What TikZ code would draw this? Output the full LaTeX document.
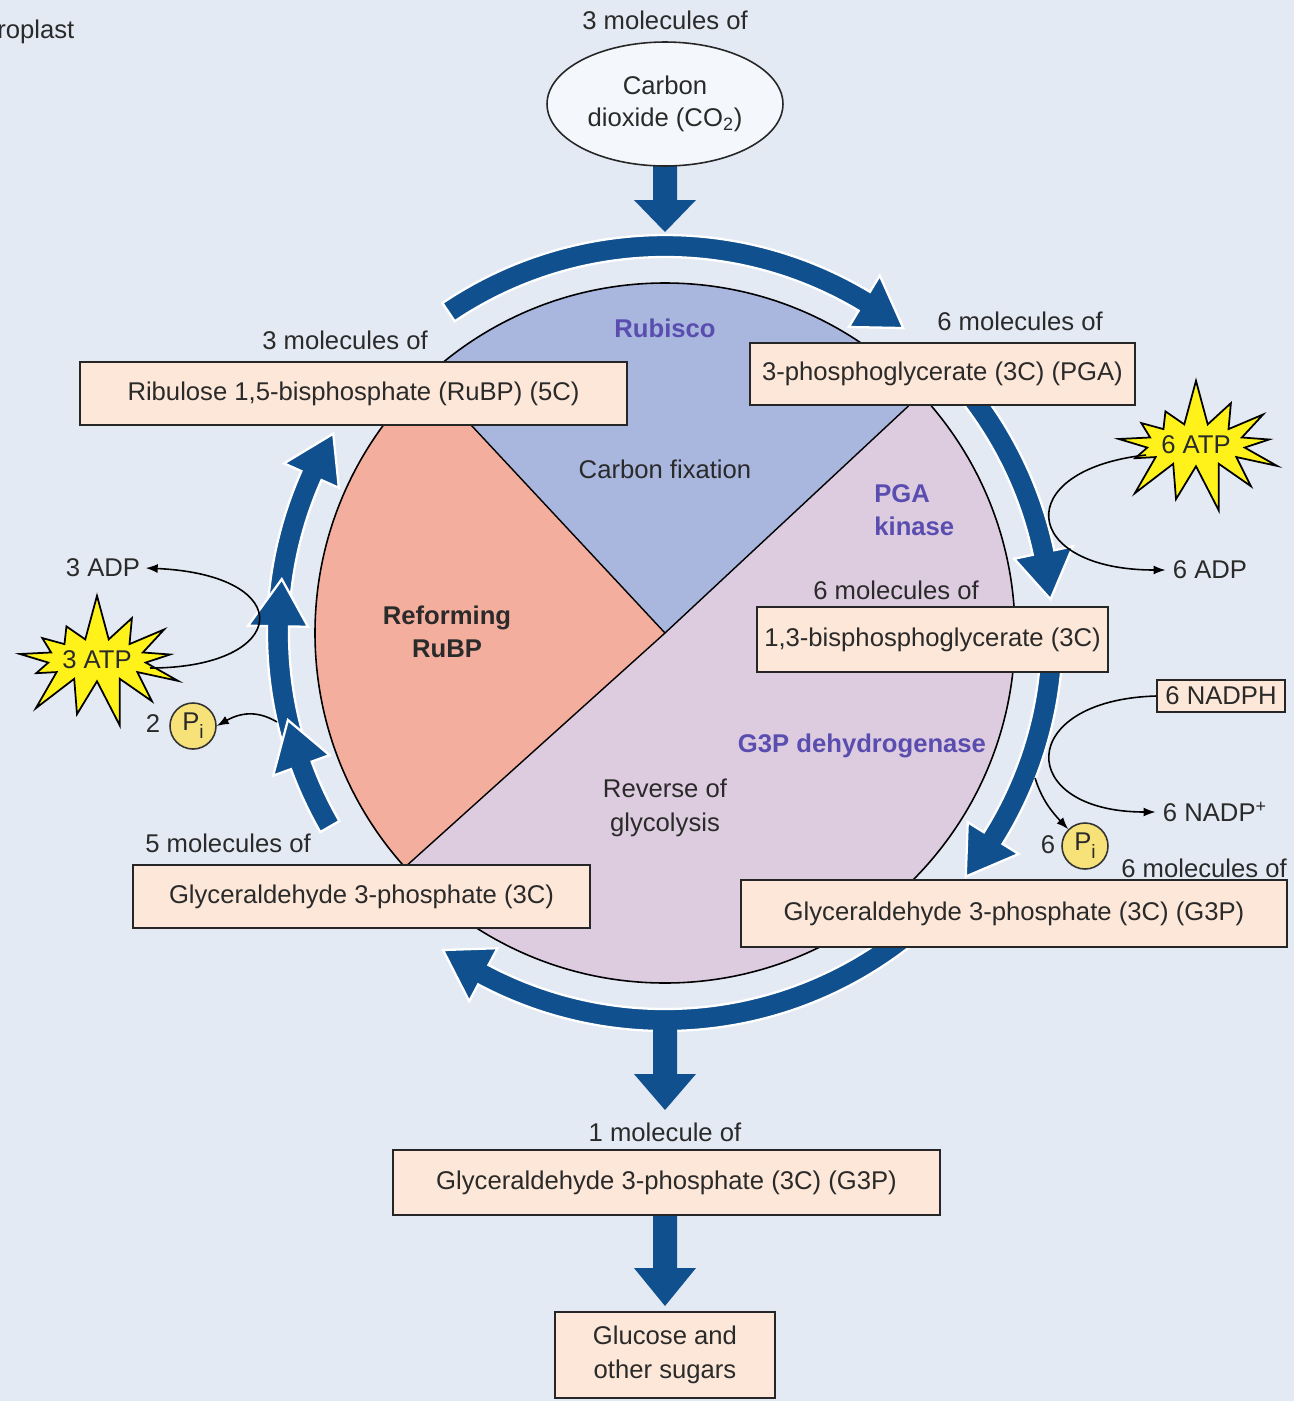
\documentclass[tikz,border=0pt]{standalone}
\usepackage{fontspec}
\setmainfont{Liberation Sans}
\usetikzlibrary{shapes.geometric,shapes.symbols,arrows.meta,calc}
\definecolor{bg}{HTML}{E4EAF4}
\definecolor{rubblue}{HTML}{A9B6DE}
\definecolor{salmon}{HTML}{F4AE9E}
\definecolor{mauve}{HTML}{DDCCDF}
\definecolor{boxfill}{HTML}{FDE7D8}
\definecolor{arrowblue}{HTML}{10508E}
\definecolor{enz}{HTML}{5A4DB0}
\definecolor{ink}{HTML}{2A2A2A}
\definecolor{starfill}{HTML}{FFF21A}
\definecolor{pifill}{HTML}{F7E27A}
\newcommand{\cyc}[3]{\fill[arrowblue, draw=white, line width=1.3pt, line join=miter]
  (#1:398) arc[start angle=#1, end angle=#2, radius=398] -- (#2:417) -- (#3:387) -- (#2:357) -- (#2:376)
  arc[start angle=#2, end angle=#1, radius=376] -- cycle;}
\newcommand{\vstem}[3]{\fill[arrowblue] (653,#1) -- (653,#2) -- (634,#2) -- (665,#3) -- (696,#2) -- (677,#2) -- (677,#1) -- cycle;}
\newcommand{\pisym}{P\raisebox{-0.6ex}{\fontsize{11}{11}\selectfont i}}
\begin{document}
\begin{tikzpicture}[x=0.02cm,y=-0.02cm,
  every node/.style={font=\fontsize{14.6}{17}\selectfont, text=ink},
  box/.style={draw=black!85, fill=boxfill, line width=0.9pt, inner sep=0pt},
  lbl/.style={inner sep=0pt},
  enzlbl/.style={font=\fontsize{14.6}{17}\selectfont\bfseries, text=enz, inner sep=0pt},
  star/.style={starburst, starburst points=13, starburst point height=0.95cm, random starburst=7,
     fill=starfill, draw=black, line width=1pt, inner sep=0pt, minimum width=3.5cm, minimum height=2.75cm},
  pi/.style={circle, fill=pifill, draw=black!80, line width=0.9pt, minimum size=0.92cm, inner sep=0pt},
  thin/.style={draw=black, line width=0.9pt, -{Latex[length=2.4mm,width=1.8mm]}}]
\useasboundingbox (0,0) rectangle (1294,1401);
\fill[bg] (0,0) rectangle (1294,1401);

% cycle disk
\begin{scope}[shift={(665,633)}]
  \fill[rubblue] (0,0) -- (-133:350) arc[start angle=-133, end angle=-43, radius=350] -- cycle;
  \fill[mauve] (0,0) -- (-43:350) arc[start angle=-43, end angle=138, radius=350] -- cycle;
  \fill[salmon] (0,0) -- (138:350) arc[start angle=138, end angle=227, radius=350] -- cycle;
  \draw[line width=0.8pt] (-133:350) -- (0,0) -- (-43:350);
  \draw[line width=0.8pt] (0,0) -- (138:350);
  \draw[line width=0.9pt] (0,0) circle[radius=350];
  % cycle arrows
  \cyc{-124}{-59}{-52}
  \cyc{-40}{-12}{-5}
  \cyc{3}{32}{39}
  \cyc{50}{118}{125}
  \cyc{184}{204}{211}
  \cyc{163}{181}{188}
  \cyc{150}{160}{167}
\end{scope}

% vertical arrows
\vstem{160}{200}{232}
\vstem{1025}{1074}{1110}
\vstem{1210}{1268}{1306}

% top-left fragment
\node[lbl, anchor=west] (chl) at (-3,32) {roplast};

% CO2
\node[lbl] (top3) at (665,20) {3 molecules of};
\node[ellipse, draw=black!85, fill=white!60!bg, line width=0.9pt, minimum width=4.72cm, minimum height=2.48cm, align=center, inner sep=0pt] (co2) at (665,104) {Carbon\\[1pt]dioxide (CO\textsubscript{2})};

% boxes
\node[box, minimum width=10.94cm, minimum height=1.26cm] (rubp) at (353.5,393.5) {Ribulose 1,5-bisphosphate (RuBP) (5C)};
\node[lbl] (rubpl) at (345,340) {3 molecules of};
\node[box, minimum width=7.7cm, minimum height=1.24cm] (pga) at (942.5,374) {3-phosphoglycerate (3C) (PGA)};
\node[lbl] (pgal) at (1020,321) {6 molecules of};
\node[box, minimum width=7.02cm, minimum height=1.3cm] (bpg) at (932.5,639.5) {1,3-bisphosphoglycerate (3C)};
\node[lbl] (bpgl) at (896,590) {6 molecules of};
\node[box, minimum width=10.92cm, minimum height=1.34cm] (g3pr) at (1014,913.5) {Glyceraldehyde 3-phosphate (3C) (G3P)};
\node[lbl] (g3prl) at (1204,868) {6 molecules of};
\node[box, minimum width=9.14cm, minimum height=1.26cm] (g3pl) at (361.5,896.5) {Glyceraldehyde 3-phosphate (3C)};
\node[lbl] (g3pll) at (228,843) {5 molecules of};
\node[box, minimum width=10.94cm, minimum height=1.3cm] (g3pb) at (666.5,1182.5) {Glyceraldehyde 3-phosphate (3C) (G3P)};
\node[lbl] (g3pbl) at (665,1132) {1 molecule of};
\node[box, minimum width=4.4cm, minimum height=1.72cm, align=center] (glc) at (665,1355) {Glucose and\\[2pt]other sugars};

% inner labels
\node[enzlbl] (rubisco) at (665,328) {Rubisco};
\node[lbl] (cfix) at (665,469) {Carbon fixation};
\node[enzlbl, anchor=west, align=left] (pgak) at (874,510) {PGA\\[2pt]kinase};
\node[enzlbl] (g3pdh) at (862,746) {G3P dehydrogenase};
\node[lbl, align=center] (rev) at (665,808) {Reverse of\\[2pt]glycolysis};
\node[lbl, align=center, font=\fontsize{14.6}{17}\selectfont\bfseries] (reform) at (447,632) {Reforming\\[2pt]RuBP};

% left side cofactors
\node[star] (atp3) at (97,660) {3 ATP};
\node[lbl] (adp3) at (103,568) {3 ADP};
\draw[thin] ($(atp3.center)+(53,8)$) .. controls (290,668) and (300,575) .. ([xshift=3]adp3.east);
\node[pi] (pi2) at (193,726) {\pisym};
\node[lbl] (two) at (153,724) {2};
\coordinate (pi2src) at (277,722);
\draw[thin] (pi2src) .. controls (262,713) and (245,710) .. (pi2.east);

% right side cofactors
\node[star] (atp6) at (1196,445) {6 ATP};
\node[lbl] (adp6) at (1210,570) {6 ADP};
\draw[thin] ($(atp6.center)+(-50,10)$) .. controls (1010,470) and (1020,570) .. ([xshift=-4]adp6.west);
\node[box, minimum width=2.56cm, minimum height=0.64cm] (nadph) at (1221,696) {6 NADPH};
\node[lbl] (nadp) at (1215,812) {6 NADP\textsuperscript{+}};
\draw[thin] (nadph.west) .. controls (1015,700) and (1015,812) .. ([xshift=-4]nadp.west);
\node[pi] (pi6) at (1085,846) {\pisym};
\node[lbl] (six) at (1048,845) {6};
\coordinate (pi6src) at (1035,778);
\draw[thin] (pi6src) .. controls (1042,800) and (1052,812) .. (pi6.north west);
\end{tikzpicture}
\end{document}
